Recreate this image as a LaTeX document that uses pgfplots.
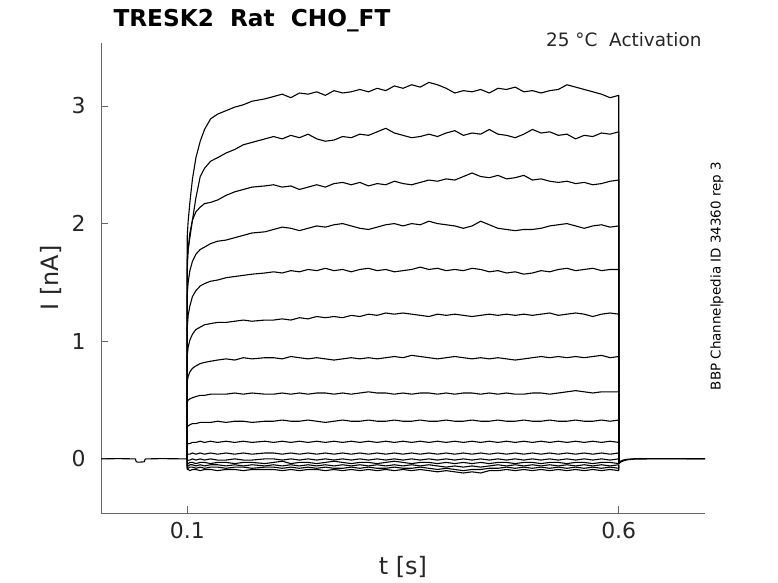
\documentclass[border=0pt]{standalone}
\usepackage{fontspec}
\setmainfont{DejaVu Sans}
\usepackage{pgfplots}
\pgfplotsset{compat=1.18}
\usepackage{pgfplotstable}
\definecolor{axgray}{gray}{0.4}
\definecolor{txtgray}{gray}{0.15}

\pgfplotstableread{
t a b c d e f g h i j k l m n o p
0.100 0 0 0 0 0 0 0 0 0 0 0 0 0 0 0 0
0.100 1.90 1.70 1.62 1.40 1.12 0.88 0.66 0.48 0.27 0.12 0.03 -0.02 -0.05 -0.07 -0.08 -0.09
0.101 2.02 1.78 1.78 1.50 1.22 0.95 0.70 0.50 0.28 0.13 0.04 -0.01 -0.04 -0.06 -0.08 -0.09
0.103 2.18 1.88 1.92 1.60 1.30 1.01 0.74 0.51 0.29 0.13 0.04 -0.01 -0.03 -0.05 -0.07 -0.10
0.106 2.38 2.03 2.03 1.68 1.38 1.06 0.77 0.52 0.30 0.14 0.05 0.00 -0.03 -0.05 -0.07 -0.09
0.110 2.56 2.22 2.10 1.74 1.43 1.10 0.79 0.53 0.30 0.14 0.04 -0.01 -0.04 -0.06 -0.08 -0.09
0.115 2.70 2.40 2.14 1.78 1.47 1.12 0.81 0.54 0.31 0.15 0.05 0.00 -0.03 -0.05 -0.07 -0.10
0.120 2.80 2.47 2.17 1.80 1.49 1.14 0.82 0.54 0.31 0.14 0.04 -0.01 -0.03 -0.06 -0.08 -0.09
0.127 2.89 2.53 2.18 1.83 1.51 1.15 0.83 0.55 0.31 0.15 0.05 0.00 -0.04 -0.05 -0.07 -0.09
0.135 2.93 2.56 2.20 1.85 1.52 1.16 0.84 0.55 0.32 0.14 0.04 -0.01 -0.03 -0.05 -0.07 -0.10
0.145 2.96 2.60 2.24 1.86 1.54 1.16 0.85 0.55 0.31 0.15 0.05 -0.01 -0.03 -0.06 -0.08 -0.09
0.155 2.99 2.63 2.27 1.88 1.55 1.17 0.84 0.56 0.32 0.14 0.04 0.00 -0.04 -0.05 -0.07 -0.09
0.165 3.01 2.67 2.29 1.90 1.56 1.18 0.86 0.55 0.32 0.15 0.05 -0.01 -0.03 -0.06 -0.07 -0.10
0.175 3.04 2.69 2.31 1.92 1.57 1.17 0.85 0.56 0.31 0.14 0.04 -0.01 -0.03 -0.05 -0.08 -0.09
0.190 3.06 2.72 2.32 1.93 1.58 1.18 0.86 0.55 0.32 0.15 0.05 0.00 -0.04 -0.06 -0.07 -0.09
0.20 3.08 2.74 2.33 1.95 1.59 1.18 0.86 0.55 0.32 0.14 0.05 0.00 -0.03 -0.05 -0.07 -0.09
0.21 3.10 2.72 2.31 1.97 1.58 1.19 0.85 0.56 0.33 0.15 0.04 -0.01 -0.02 -0.06 -0.08 -0.10
0.22 3.07 2.75 2.32 1.96 1.60 1.18 0.87 0.55 0.32 0.14 0.05 0.00 -0.04 -0.05 -0.07 -0.09
0.23 3.11 2.73 2.29 1.94 1.59 1.20 0.86 0.56 0.32 0.15 0.04 -0.01 -0.03 -0.06 -0.08 -0.10
0.24 3.10 2.76 2.31 1.96 1.61 1.19 0.85 0.55 0.33 0.14 0.05 0.00 -0.03 -0.05 -0.07 -0.09
0.25 3.12 2.72 2.33 1.98 1.60 1.21 0.86 0.56 0.32 0.15 0.04 -0.01 -0.04 -0.06 -0.08 -0.09
0.26 3.09 2.70 2.31 1.97 1.62 1.20 0.85 0.56 0.31 0.14 0.05 0.00 -0.03 -0.05 -0.07 -0.10
0.27 3.13 2.71 2.34 1.99 1.60 1.21 0.84 0.55 0.32 0.15 0.04 -0.01 -0.02 -0.06 -0.08 -0.09
0.28 3.11 2.74 2.35 2.00 1.61 1.20 0.85 0.56 0.33 0.14 0.05 0.00 -0.03 -0.05 -0.08 -0.10
0.29 3.12 2.73 2.33 1.98 1.59 1.22 0.86 0.55 0.32 0.15 0.04 -0.01 -0.04 -0.06 -0.07 -0.09
0.30 3.14 2.76 2.35 1.96 1.61 1.21 0.85 0.56 0.32 0.14 0.05 0.00 -0.03 -0.05 -0.08 -0.10
0.31 3.12 2.75 2.32 1.95 1.62 1.23 0.86 0.57 0.33 0.15 0.04 -0.01 -0.03 -0.06 -0.07 -0.09
0.32 3.15 2.78 2.34 1.97 1.60 1.22 0.85 0.56 0.32 0.14 0.05 0.00 -0.04 -0.05 -0.08 -0.10
0.33 3.13 2.81 2.33 1.99 1.61 1.24 0.86 0.56 0.32 0.15 0.04 -0.01 -0.03 -0.06 -0.08 -0.09
0.34 3.17 2.77 2.36 2.00 1.59 1.23 0.87 0.55 0.33 0.14 0.05 0.00 -0.02 -0.05 -0.07 -0.10
0.35 3.15 2.75 2.34 1.98 1.60 1.24 0.86 0.56 0.32 0.15 0.04 -0.01 -0.03 -0.06 -0.08 -0.09
0.36 3.18 2.73 2.33 2.00 1.61 1.23 0.88 0.55 0.32 0.14 0.05 0.00 -0.04 -0.05 -0.08 -0.10
0.37 3.16 2.74 2.35 1.99 1.63 1.22 0.87 0.56 0.33 0.15 0.04 -0.01 -0.03 -0.06 -0.07 -0.09
0.38 3.20 2.76 2.37 2.02 1.61 1.21 0.86 0.56 0.32 0.14 0.05 0.00 -0.03 -0.05 -0.08 -0.10
0.39 3.18 2.74 2.36 2.00 1.62 1.23 0.85 0.55 0.32 0.15 0.04 -0.01 -0.04 -0.06 -0.09 -0.11
0.40 3.15 2.77 2.38 1.99 1.60 1.22 0.86 0.56 0.33 0.14 0.05 0.00 -0.03 -0.07 -0.08 -0.10
0.41 3.11 2.79 2.37 1.98 1.61 1.23 0.87 0.55 0.32 0.15 0.04 -0.01 -0.04 -0.06 -0.09 -0.11
0.42 3.13 2.75 2.40 1.96 1.60 1.22 0.86 0.56 0.32 0.14 0.05 0.00 -0.03 -0.07 -0.10 -0.12
0.43 3.12 2.77 2.43 1.98 1.62 1.21 0.85 0.56 0.33 0.15 0.04 -0.01 -0.04 -0.06 -0.09 -0.11
0.44 3.14 2.76 2.40 2.02 1.61 1.22 0.86 0.55 0.32 0.14 0.05 0.00 -0.03 -0.07 -0.09 -0.12
0.45 3.11 2.80 2.39 1.99 1.59 1.23 0.85 0.56 0.32 0.15 0.04 -0.01 -0.04 -0.06 -0.08 -0.10
0.46 3.15 2.76 2.41 1.96 1.60 1.22 0.86 0.55 0.33 0.14 0.05 0.00 -0.03 -0.05 -0.08 -0.10
0.47 3.14 2.75 2.38 1.95 1.58 1.23 0.85 0.56 0.32 0.15 0.04 -0.01 -0.03 -0.06 -0.07 -0.09
0.48 3.16 2.73 2.39 1.94 1.59 1.22 0.84 0.55 0.32 0.14 0.05 0.00 -0.04 -0.05 -0.08 -0.10
0.49 3.12 2.76 2.41 1.95 1.57 1.23 0.85 0.55 0.33 0.15 0.04 -0.01 -0.03 -0.06 -0.07 -0.09
0.50 3.13 2.80 2.37 1.95 1.58 1.22 0.86 0.56 0.32 0.14 0.05 0.00 -0.03 -0.05 -0.08 -0.10
0.51 3.11 2.77 2.38 1.96 1.60 1.23 0.87 0.56 0.32 0.15 0.04 -0.01 -0.04 -0.06 -0.07 -0.09
0.52 3.13 2.78 2.36 1.98 1.59 1.24 0.86 0.55 0.33 0.14 0.05 0.00 -0.03 -0.05 -0.08 -0.10
0.53 3.14 2.75 2.35 1.99 1.61 1.22 0.87 0.56 0.32 0.15 0.04 -0.01 -0.03 -0.06 -0.07 -0.09
0.54 3.18 2.76 2.36 2.00 1.62 1.23 0.86 0.57 0.32 0.14 0.05 0.00 -0.04 -0.05 -0.08 -0.10
0.55 3.16 2.72 2.34 1.98 1.60 1.24 0.87 0.58 0.33 0.15 0.04 -0.01 -0.03 -0.06 -0.07 -0.09
0.56 3.14 2.75 2.35 1.96 1.61 1.23 0.86 0.57 0.32 0.14 0.05 0.00 -0.03 -0.05 -0.08 -0.10
0.57 3.12 2.74 2.33 1.98 1.62 1.21 0.87 0.56 0.32 0.15 0.04 -0.01 -0.04 -0.06 -0.07 -0.09
0.58 3.10 2.77 2.34 1.99 1.60 1.23 0.88 0.57 0.33 0.14 0.05 0.00 -0.03 -0.05 -0.08 -0.10
0.59 3.07 2.76 2.36 1.97 1.61 1.24 0.86 0.57 0.32 0.15 0.04 -0.01 -0.03 -0.06 -0.07 -0.09
0.60 3.09 2.78 2.37 1.98 1.61 1.23 0.87 0.57 0.33 0.14 0.05 0.00 -0.04 -0.05 -0.08 -0.10
0.60 -0.04 -0.04 -0.04 -0.04 -0.04 -0.04 -0.04 -0.04 -0.04 -0.04 -0.04 -0.04 -0.04 -0.05 -0.05 -0.05
}\traces

\begin{document}
\begin{tikzpicture}
\useasboundingbox (0,0) rectangle (778bp,583bp);
\begin{axis}[
  at={(101bp,70bp)}, anchor=south west,
  scale only axis, width=604bp, height=470bp,
  xmin=0, xmax=0.7, ymin=-0.46, ymax=3.535,
  axis x line*=bottom, axis y line*=left,
  axis line style={axgray, line width=0.8bp},
  tick align=inside, major tick length=7bp,
  tick style={axgray, line width=0.8bp},
  xtick={0.1,0.6}, xticklabels={0.1,0.6},
  ytick={0,1,2,3}, yticklabels={0,1,2,3},
  ticklabel style={font=\fontsize{22}{26}\selectfont, text=txtgray},
  xticklabel style={yshift=-6bp},
  yticklabel style={xshift=-12bp},
  cycle list={{black, no markers}},
  every axis plot/.append style={black, line width=1.1bp, line join=round, no markers},
]
\addplot coordinates {(0,0) (0.02,0.002) (0.04,0) (0.0405,-0.02) (0.042,-0.028) (0.046,-0.027) (0.05,-0.025) (0.051,-0.005) (0.052,0) (0.07,0.002) (0.1,0)};
\addplot table[x=t,y=a]{\traces};
\addplot table[x=t,y=b]{\traces};
\addplot table[x=t,y=c]{\traces};
\addplot table[x=t,y=d]{\traces};
\addplot table[x=t,y=e]{\traces};
\addplot table[x=t,y=f]{\traces};
\addplot table[x=t,y=g]{\traces};
\addplot table[x=t,y=h]{\traces};
\addplot table[x=t,y=i]{\traces};
\addplot table[x=t,y=j]{\traces};
\addplot table[x=t,y=k]{\traces};
\addplot table[x=t,y=l]{\traces};
\addplot table[x=t,y=m]{\traces};
\addplot table[x=t,y=n]{\traces};
\addplot table[x=t,y=o]{\traces};
\addplot table[x=t,y=p]{\traces};
\addplot coordinates {(0.6,-0.045) (0.601,-0.035) (0.603,-0.025) (0.606,-0.015) (0.61,-0.008) (0.615,-0.004) (0.62,-0.001) (0.65,0) (0.7,0)};
\addplot coordinates {(0.6,-0.03) (0.602,-0.02) (0.605,-0.01) (0.61,-0.003) (0.62,0.002) (0.66,0.002) (0.7,0.001)};
\end{axis}
\node[font=\fontsize{24}{28}\selectfont, text=txtgray] at (403bp,16bp) {t [s]};
\node[rotate=90, font=\fontsize{24}{28}\selectfont, text=txtgray] at (51bp,305bp) {I [nA]};
\node[anchor=base west, font=\fontsize{23.3}{28}\selectfont\bfseries] at (110bp,556bp) {TRESK2\ \ Rat\ \ CHO\_FT};
\node[anchor=base east, font=\fontsize{18.5}{22}\selectfont, text=txtgray] at (705bp,536bp) {25 °C\ \ Activation};
\node[rotate=90, font=\fontsize{13.5}{16}\selectfont] at (717bp,307bp) {BBP Channelpedia ID 34360 rep 3};
\end{tikzpicture}
\end{document}
